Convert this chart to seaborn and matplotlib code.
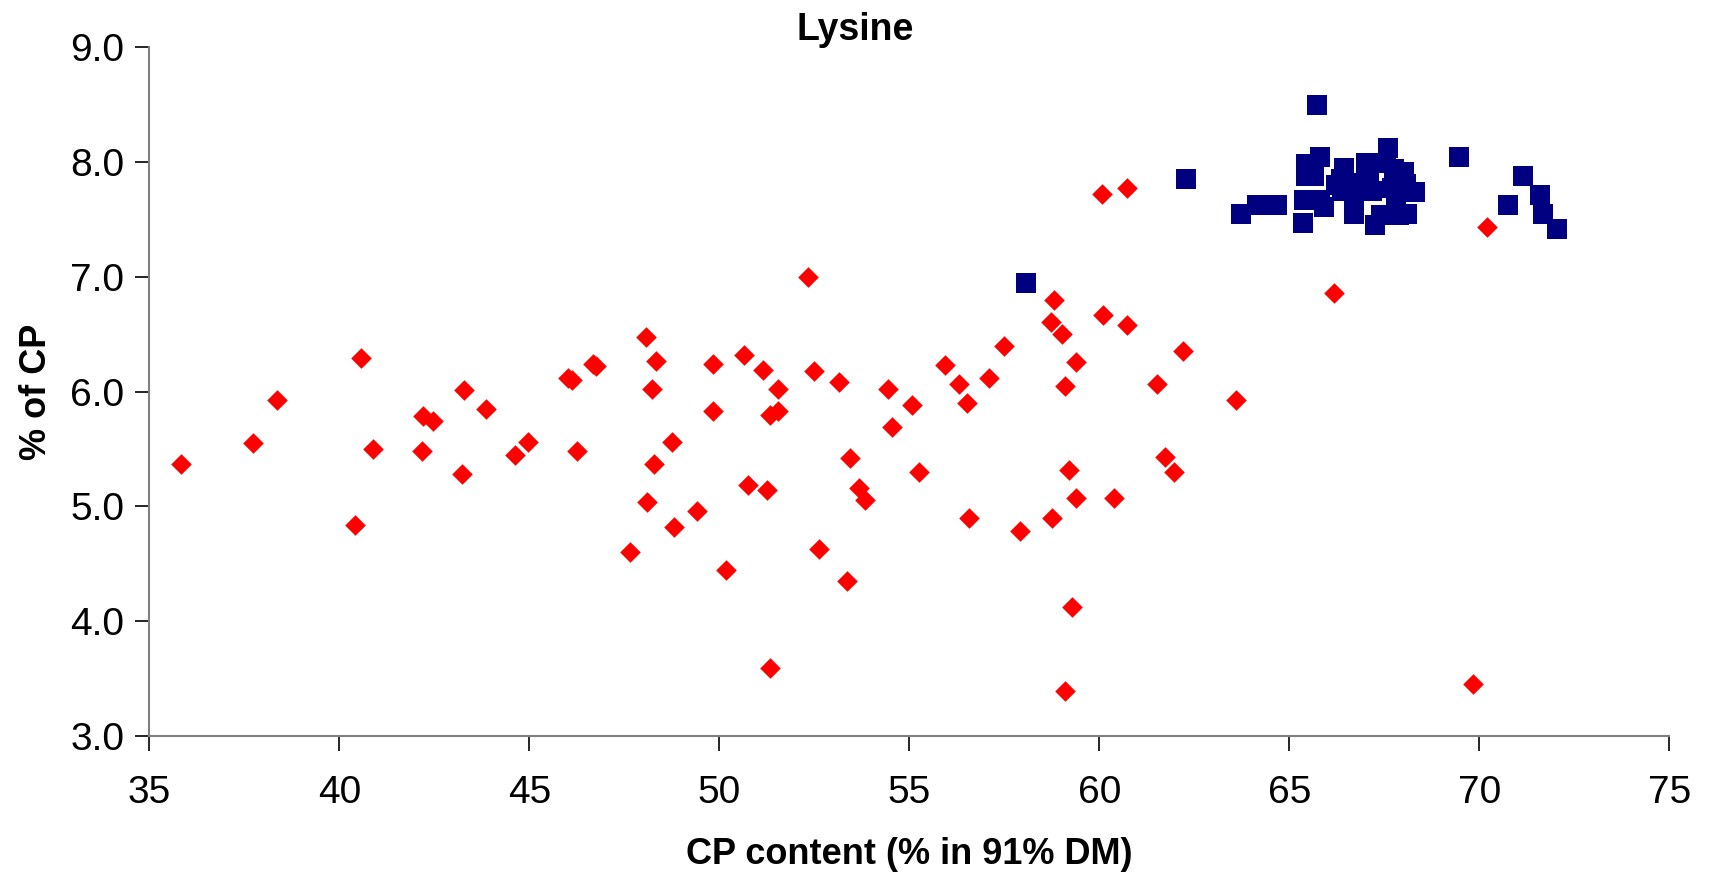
import matplotlib
matplotlib.use("Agg")
import matplotlib.pyplot as plt
import seaborn as sns
import pandas as pd

# Red diamonds series
red_x = [35.82, 37.73, 38.36, 40.56, 40.42, 40.89, 42.21, 42.47, 42.18, 43.28,
         43.23, 43.86, 44.62, 44.95, 46.02, 46.11, 46.24, 46.68, 46.75, 48.07,
         48.32, 48.22, 48.27, 48.09, 48.75, 48.80, 47.65, 49.42, 49.84, 49.84,
         50.18, 50.65, 50.76, 51.14, 51.24, 51.53, 51.33, 51.55, 51.33, 52.34,
         52.49, 52.63, 53.16, 53.44, 53.35, 53.68, 53.83, 54.44, 54.54, 55.06,
         55.26, 55.94, 56.31, 56.51, 56.56, 57.09, 57.50, 57.91, 58.72, 58.80,
         59.01, 59.09, 59.38, 59.19, 59.38, 58.76, 59.29, 59.09, 60.06, 60.72,
         60.10, 60.72, 60.39, 61.53, 61.73, 61.97, 62.21, 63.60, 66.18, 70.21,
         69.83]
red_y = [5.37, 5.55, 5.93, 6.29, 4.84, 5.50, 5.79, 5.74, 5.48, 6.01,
         5.28, 5.85, 5.45, 5.56, 6.12, 6.10, 5.48, 6.24, 6.22, 6.48,
         6.27, 6.02, 5.37, 5.04, 5.56, 4.82, 4.60, 4.96, 6.24, 5.83,
         4.45, 6.32, 5.19, 6.19, 5.14, 6.02, 5.80, 5.83, 3.59, 7.00,
         6.18, 4.63, 6.08, 5.42, 4.35, 5.16, 5.06, 6.02, 5.69, 5.88,
         5.30, 6.23, 6.07, 5.90, 4.90, 6.12, 6.40, 4.79, 6.61, 6.80,
         6.50, 6.05, 6.26, 5.32, 5.07, 4.90, 4.12, 3.39, 7.72, 7.77,
         6.67, 6.58, 5.07, 6.07, 5.43, 5.30, 6.35, 5.93, 6.86, 7.43,
         3.45]

# Blue squares series
blue_x = [58.07, 62.28, 63.72, 64.15, 64.67, 65.35, 65.39, 65.73, 65.82, 65.45,
          65.45, 65.66, 65.91, 65.82, 66.45, 67.02, 66.22, 66.35, 66.70, 67.10,
          66.39, 66.75, 67.18, 66.69, 66.69, 67.60, 67.54, 67.76, 68.02, 68.07,
          68.32, 67.71, 67.82, 67.40, 67.89, 68.09, 67.25, 69.47, 71.14, 70.75,
          71.61, 71.67, 72.05]
blue_y = [6.95, 7.85, 7.55, 7.63, 7.63, 7.47, 7.67, 8.50, 8.04, 7.98,
          7.88, 7.88, 7.61, 7.67, 7.95, 7.99, 7.80, 7.85, 7.82, 7.83,
          7.75, 7.77, 7.75, 7.55, 7.64, 8.12, 7.99, 7.94, 7.91, 7.81,
          7.74, 7.77, 7.69, 7.54, 7.54, 7.55, 7.45, 8.04, 7.88, 7.63,
          7.71, 7.55, 7.42]

x_ticks = [35, 40, 45, 50, 55, 60, 65, 70, 75]
y_ticks = [3.0, 4.0, 5.0, 6.0, 7.0, 8.0, 9.0]
y_tick_labels = ["3.0", "4.0", "5.0", "6.0", "7.0", "8.0", "9.0"]

title = "Lysine"
x_label = "CP content (% in 91% DM)"
y_label = "% of CP"

sns.set_style("white")
plt.rcParams['font.family'] = ['Liberation Sans', 'DejaVu Sans']
plt.rcParams['text.color'] = 'black'
plt.rcParams['axes.labelcolor'] = 'black'
plt.rcParams['xtick.color'] = 'black'
plt.rcParams['ytick.color'] = 'black'

red_df = pd.DataFrame({"x": red_x, "y": red_y})
blue_df = pd.DataFrame({"x": blue_x, "y": blue_y})

fig = plt.figure(figsize=(17.10, 8.72), dpi=100)
ax = fig.add_axes([0.0874, 0.156, 0.9762 - 0.0874, 0.9458 - 0.156])

sns.scatterplot(data=red_df, x="x", y="y", marker="D", color="#FF0000",
                s=110, linewidth=0, ax=ax, zorder=3)
sns.scatterplot(data=blue_df, x="x", y="y", marker="s", color="#000080",
                s=190, linewidth=0, ax=ax, zorder=4)

ax.set_xlim(35, 75)
ax.set_ylim(3.0, 9.0)
ax.set_xticks(x_ticks)
ax.set_xticklabels([str(t) for t in x_ticks])
ax.set_yticks(y_ticks)
ax.set_yticklabels(y_tick_labels)

for side in ["top", "right"]:
    ax.spines[side].set_visible(False)
for side in ["left", "bottom"]:
    ax.spines[side].set_color("#808080")
    ax.spines[side].set_linewidth(1.5)

ax.tick_params(axis="x", direction="out", length=11, width=1.2, color="black",
               labelcolor="black", labelsize=28, pad=17, bottom=True)
ax.tick_params(axis="y", direction="out", length=10, width=1.2, color="black",
               labelcolor="black", labelsize=28, pad=8, left=True)

ax.set_xlabel(x_label, fontsize=26, fontweight="bold", color="black")
ax.set_ylabel(y_label, fontsize=26, fontweight="bold", color="black")
ax.xaxis.set_label_coords(0.5, -0.147)
ax.yaxis.set_label_coords(-0.063, 0.5)

fig.text(0.5, 0.966, title, ha="center", va="center", fontsize=27,
         fontweight="bold", color="black")

fig.savefig("out.png", dpi=100)
